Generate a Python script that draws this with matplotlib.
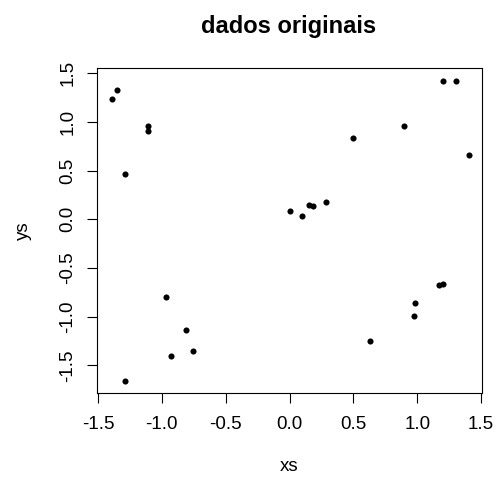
import matplotlib as mpl
mpl.use("Agg")
import matplotlib.pyplot as plt

# pontos
xs = [-1.392, -1.353, -1.110, -1.110, -1.286,
      1.204, 1.304, 0.894, 0.497, 1.403,
      0.001, 0.098, 0.155, 0.187, 0.283,
      -0.965, -0.808, -0.758, -0.926, -1.286,
      1.168, 1.200, 0.983, 0.972, 0.633]
ys = [1.236, 1.326, 0.962, 0.911, 0.462,
      1.425, 1.425, 0.962, 0.836, 0.661,
      0.085, 0.037, 0.150, 0.137, 0.175,
      -0.799, -1.138, -1.350, -1.402, -1.662,
      -0.675, -0.665, -0.864, -0.991, -1.251]
xticks = [-1.5, -1.0, -0.5, 0.0, 0.5, 1.0, 1.5]
yticks = [-1.5, -1.0, -0.5, 0.0, 0.5, 1.0, 1.5]

mpl.rcParams.update({"font.family": ["Liberation Sans", "DejaVu Sans"]})

fig = plt.figure(figsize=(4.96, 4.83), dpi=100)
ax = fig.add_axes([0.195, 0.1857, 0.7774, 0.6729])
ax.plot(xs, ys, "o", color="black", markersize=4.4, markeredgewidth=0)
ax.set_xlim(-1.510, 1.510)
ax.set_ylim(-1.788, 1.552)
ax.set_xticks(xticks)
ax.set_xticklabels([f"{v:.1f}" for v in xticks])
ax.set_yticks(yticks)
ax.set_yticklabels([f"{v:.1f}" for v in yticks], rotation=90, va="center")
ax.tick_params(direction="out", length=7.5, width=0.8, labelsize=13.5, pad=9)
ax.tick_params(axis="y", pad=7)
for s in ax.spines.values():
    s.set_linewidth(0.8)
ax.set_xlabel("xs", fontsize=13.5, labelpad=18)
ax.set_ylabel("ys", fontsize=13.5, labelpad=20)
fig.text(0.582, 0.945, "dados originais", ha="center", va="center",
         fontsize=17, fontweight="bold")
fig.savefig("out.png", dpi=100)
